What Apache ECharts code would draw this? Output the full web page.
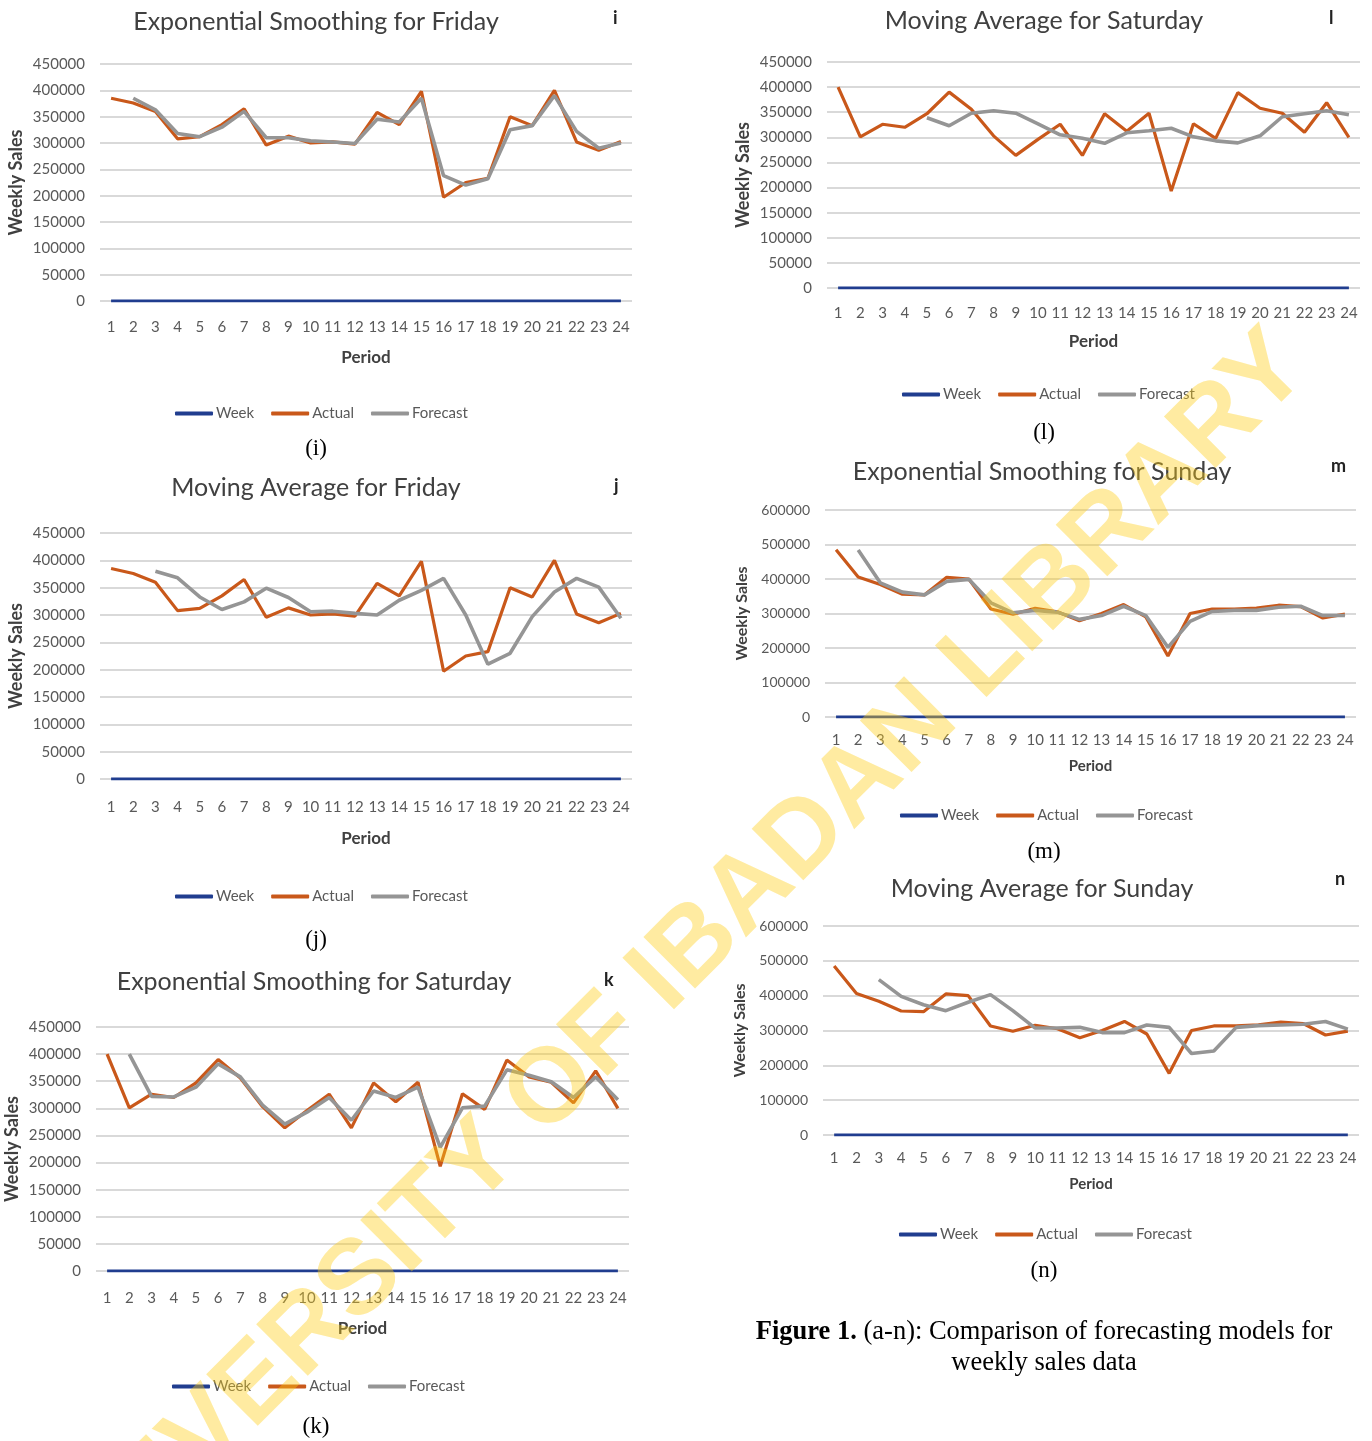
<!DOCTYPE html>
<html>
<head>
<meta charset="utf-8">
<script src="https://cdn.jsdelivr.net/npm/echarts@6/dist/echarts.min.js"></script>
<style>
  html, body { margin: 0; padding: 0; background: #ffffff; }
  #chart { width: 1372px; height: 1441px; }
</style>
</head>
<body>
<div id="chart"></div>
<script>
// ---- data -------------------------------------------------------------
const periods = ['1','2','3','4','5','6','7','8','9','10','11','12','13','14','15','16','17','18','19','20','21','22','23','24'];
const weekNumbers = [1,2,3,4,5,6,7,8,9,10,11,12,13,14,15,16,17,18,19,20,21,22,23,24];

const fridayActual = [385000, 376000, 360000, 308000, 312000, 335000, 365000, 296000, 313000, 300000, 302000, 298000,
                      358000, 335000, 398000, 197000, 225000, 233000, 350000, 333000, 400000, 302000, 286000, 303000];
const fridayExpForecast = [null, 385000, 363000, 318000, 312000, 330000, 360000, 310000, 310000, 304000, 302000, 299000,
                           345000, 340000, 385000, 238000, 220000, 232000, 325000, 333000, 390000, 322000, 290000, 300000];
const fridayMAForecast = [null, null, 380000, 368000, 333000, 310000, 324000, 349000, 332000, 306000, 307000, 303000,
                          300000, 327000, 345000, 367000, 300000, 210000, 230000, 297000, 342000, 367000, 351000, 294000];

const saturdayActual = [400000, 301000, 326000, 320000, 347000, 390000, 356000, 303000, 264000, 296000, 326000, 264000,
                        347000, 312000, 348000, 193000, 327000, 298000, 389000, 358000, 348000, 310000, 369000, 300000];
const saturdayExpForecast = [null, 400000, 322000, 321000, 339000, 382000, 358000, 306000, 271000, 293000, 320000, 278000,
                             332000, 320000, 339000, 228000, 301000, 304000, 371000, 361000, 349000, 320000, 358000, 316000];
const saturdayMAForecast = [null, null, null, null, 339000, 323000, 348000, 353000, 348000, 327000, 305000, 298000,
                            288000, 309000, 313000, 318000, 301000, 293000, 289000, 303000, 341000, 347000, 353000, 345000];

const sundayActual = [485000, 406000, 384000, 356000, 354000, 405000, 400000, 313000, 298000, 315000, 305000, 279000,
                      300000, 326000, 290000, 177000, 300000, 313000, 313000, 316000, 324000, 320000, 287000, 298000];
const sundayExpForecast = [null, 484000, 389000, 362000, 354000, 393000, 399000, 331000, 302000, 309000, 304000, 283000,
                           294000, 321000, 294000, 202000, 277000, 306000, 309000, 309000, 318000, 321000, 294000, 294000];
const sundayMAForecast = [null, null, 446000, 398000, 374000, 357000, 381000, 403000, 357000, 307000, 307000, 309000,
                          294000, 294000, 316000, 309000, 234000, 241000, 309000, 314000, 316000, 318000, 326000, 304000];

const seriesNames = ['Week', 'Actual', 'Forecast'];
const panelTitles = ['Exponential Smoothing for Friday', 'Moving Average for Friday', 'Exponential Smoothing for Saturday',
                     'Moving Average for Saturday', 'Exponential Smoothing for Sunday', 'Moving Average for Sunday'];
const panelLetters = ['i', 'j', 'k', 'l', 'm', 'n'];
const panelActual = [fridayActual, fridayActual, saturdayActual, saturdayActual, sundayActual, sundayActual];
const panelForecast = [fridayExpForecast, fridayMAForecast, saturdayExpForecast, saturdayMAForecast, sundayExpForecast, sundayMAForecast];
const panelYMax = [450000, 450000, 450000, 450000, 600000, 600000];
const panelYStep = [50000, 50000, 50000, 50000, 100000, 100000];

// ---- layout (pixels) ---------------------------------------------------
const layout = [
  { grid: [100, 64, 532, 237],  title: [311, 17],  letter: [618, 20],   legend: [170, 413],  caption: [316, 449],  lblGap: 27, nameGap: 48, yFont: 15, nameFont: 17 },
  { grid: [100, 533, 532, 246], title: [311, 483], letter: [619, 488],  legend: [170, 896],  caption: [316, 940],  lblGap: 29, nameGap: 51, yFont: 15, nameFont: 17 },
  { grid: [96, 1027, 533, 244], title: [309, 977], letter: [609, 982],  legend: [167, 1386], caption: [316, 1427], lblGap: 28, nameGap: 49, yFont: 15, nameFont: 17 },
  { grid: [827, 62, 533, 226],  title: [1039, 16], letter: [1334, 20],  legend: [897, 394],  caption: [1044, 433], lblGap: 26, nameGap: 45, yFont: 15, nameFont: 17 },
  { grid: [825, 510, 531, 207], title: [1037, 467], letter: [1336, 468], legend: [895, 815], caption: [1044, 852], lblGap: 24, nameGap: 42, yFont: 14, nameFont: 15 },
  { grid: [823, 926, 536, 209], title: [1037, 884], letter: [1340, 881], legend: [894, 1234], caption: [1044, 1271], lblGap: 24, nameGap: 42, yFont: 14, nameFont: 15 }
];

const COLORS = { week: '#203D8F', actual: '#C9581A', forecast: '#959595' };
const SANS = 'Lato, "Open Sans", sans-serif';
const SERIF = '"Liberation Serif", "DejaVu Serif", serif';

const chart = echarts.init(document.getElementById('chart'), null, { renderer: 'canvas' });

const grids = [], xAxes = [], yAxes = [], titles = [], legends = [], series = [], graphics = [];

layout.forEach((L, i) => {
  const [gl, gt, gw, gh] = L.grid;
  grids.push({ left: gl, top: gt, width: gw, height: gh, containLabel: false });

  xAxes.push({
    type: 'category', gridIndex: i, data: periods, boundaryGap: true,
    axisLine: { show: false }, axisTick: { show: false },
    axisLabel: { color: '#595959', fontFamily: SANS, fontSize: 15, margin: L.lblGap - 8, interval: 0 },
    name: 'Period', nameLocation: 'middle', nameGap: L.nameGap,
    nameTextStyle: { color: '#404040', fontFamily: SANS, fontSize: L.nameFont, fontWeight: 'bold' }
  });

  yAxes.push({
    type: 'value', gridIndex: i, min: 0, max: panelYMax[i], interval: panelYStep[i],
    axisLine: { show: false }, axisTick: { show: false },
    axisLabel: { color: '#595959', fontFamily: SANS, fontSize: L.yFont, margin: 15, formatter: (v) => String(v) },
    splitLine: { lineStyle: { color: '#D9D9D9', width: 2 } },
    name: 'Weekly Sales', nameLocation: 'middle', nameGap: 75,
    nameTextStyle: { color: '#404040', fontFamily: SANS, fontSize: L.nameFont + 1, fontWeight: 'bold' }
  });

  titles.push({
    text: panelTitles[i], left: L.title[0], top: L.title[1], textAlign: 'center', textVerticalAlign: 'middle',
    textStyle: { color: '#404040', fontFamily: SANS, fontSize: 25, fontWeight: 'normal' }
  });

  legends.push({
    data: seriesNames, left: L.legend[0], top: L.legend[1] - 12, orient: 'horizontal',
    icon: 'roundRect', itemWidth: 38, itemHeight: 4, itemGap: 17,
    textStyle: { color: '#595959', fontFamily: SANS, fontSize: 15, padding: [0, 0, 0, -2] }
  });

  series.push({
    name: 'Week', type: 'line', xAxisIndex: i, yAxisIndex: i, data: weekNumbers,
    symbol: 'none', lineStyle: { color: COLORS.week, width: 3 }, itemStyle: { color: COLORS.week }, z: 2
  });
  series.push({
    name: 'Actual', type: 'line', xAxisIndex: i, yAxisIndex: i, data: panelActual[i],
    symbol: 'none', lineStyle: { color: COLORS.actual, width: 3.2 }, itemStyle: { color: COLORS.actual }, z: 3
  });
  series.push({
    name: 'Forecast', type: 'line', xAxisIndex: i, yAxisIndex: i, data: panelForecast[i],
    symbol: 'none', connectNulls: false, lineStyle: { color: COLORS.forecast, width: 3.6 }, itemStyle: { color: COLORS.forecast }, z: 4
  });

  graphics.push({
    type: 'text', left: L.letter[0] - 5, top: L.letter[1] - 11, silent: true,
    style: { text: panelLetters[i], fill: '#222222', font: 'bold 18px ' + SANS }
  });
  graphics.push({
    type: 'text', x: L.caption[0], y: L.caption[1], silent: true,
    style: { text: '(' + panelLetters[i] + ')', fill: '#000000', font: '23px ' + SERIF, align: 'center', verticalAlign: 'middle' }
  });
});

// figure caption
graphics.push({
  type: 'text', x: 1044, y: 1332, silent: true,
  style: {
    text: '{b|Figure 1.} (a-n): Comparison of forecasting models for',
    align: 'center', verticalAlign: 'middle', fill: '#000000', font: '26.5px ' + SERIF,
    rich: { b: { font: 'bold 26.5px ' + SERIF, fill: '#000000' } }
  }
});
graphics.push({
  type: 'text', x: 1044, y: 1363, silent: true,
  style: { text: 'weekly sales data', align: 'center', verticalAlign: 'middle', fill: '#000000', font: '26.5px ' + SERIF }
});

// diagonal library watermark laid over everything
graphics.push({
  type: 'text', x: 672, y: 970, rotation: Math.PI / 4, silent: true, z: 100,
  style: {
    text: 'UNIVERSITY OF IBADAN LIBRARY', align: 'center', verticalAlign: 'middle',
    fill: 'rgba(255, 206, 20, 0.40)', font: 'bold 106px "Liberation Sans", Arial, sans-serif'
  }
});

chart.setOption({
  animation: false,
  backgroundColor: '#ffffff',
  title: titles,
  legend: legends,
  grid: grids,
  xAxis: xAxes,
  yAxis: yAxes,
  series: series,
  graphic: { elements: graphics }
});
</script>
</body>
</html>
